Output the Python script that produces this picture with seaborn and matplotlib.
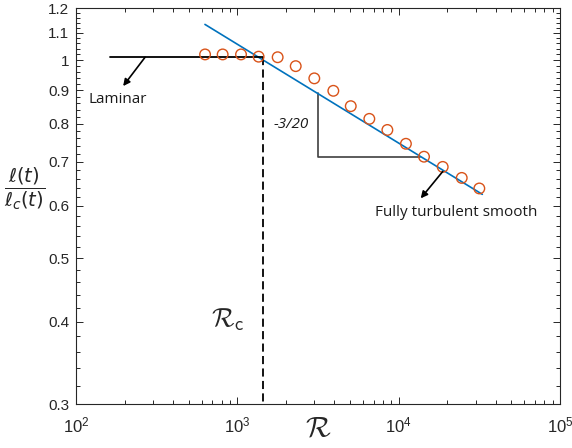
import numpy as np
import pandas as pd
import matplotlib
matplotlib.use("Agg")
import matplotlib.pyplot as plt
import seaborn as sns
from matplotlib.ticker import NullFormatter, FixedLocator

# ---- data ----
R_points = [631, 811, 1054, 1355, 1778, 2301, 3000, 3936, 5047, 6579,
            8511, 11090, 14360, 18750, 24600, 31620]
ell_ratio = [1.020, 1.020, 1.020, 1.012, 1.010, 0.979, 0.938, 0.898, 0.851,
             0.814, 0.783, 0.746, 0.713, 0.688, 0.662, 0.638]

fit_R = [630, 33000]          # fully turbulent smooth scaling, slope -3/20
fit_ell = [1.133, 0.625]

laminar_R = [162, 1435]
laminar_ell = [1.01, 1.01]

Rc = 1435

tri_R = [3150, 3150, 13550]
tri_ell = [0.890, 0.713, 0.713]

y_ticks = [0.3, 0.4, 0.5, 0.6, 0.7, 0.8, 0.9, 1.0, 1.1, 1.2]
y_ticklabels = ["0.3", "0.4", "0.5", "0.6", "0.7", "0.8", "0.9", "1", "1.1", "1.2"]

sns.set_style("ticks")
plt.rcParams["font.family"] = ["Liberation Sans", "DejaVu Sans"]

fig = plt.figure(figsize=(5.72, 4.48), dpi=100)
ax = fig.add_axes([76 / 572, 1 - 404 / 448, (560 - 76) / 572, (404 - 8) / 448])

df_pts = pd.DataFrame({"R": R_points, "ell": ell_ratio})
df_fit = pd.DataFrame({"R": fit_R, "ell": fit_ell})
df_lam = pd.DataFrame({"R": laminar_R, "ell": laminar_ell})

sns.lineplot(data=df_fit, x="R", y="ell", ax=ax, color="#0072BD", lw=1.2,
             zorder=2, sort=False)
sns.lineplot(data=df_lam, x="R", y="ell", ax=ax, color="black", lw=1.3,
             zorder=2, sort=False)
ax.plot(tri_R, tri_ell, color="#404040", lw=1.2, zorder=1)
ax.plot([Rc, Rc], [laminar_ell[0], 0.3], color="black", lw=1.3,
        ls=(0, (4.5, 2.4)), zorder=2)
sns.scatterplot(data=df_pts, x="R", y="ell", ax=ax, marker="o", s=58,
                facecolor="none", edgecolor="#D95319", linewidth=1.0, zorder=3)

ax.set_xscale("log")
ax.set_yscale("log")
ax.set_xlim(1e2, 1e5)
ax.set_ylim(0.3, 1.2)

ax.yaxis.set_major_locator(FixedLocator(y_ticks))
ax.set_yticklabels(y_ticklabels)
minor_y = [v / 100 for v in range(30, 121, 2) if v % 10 != 0]
ax.yaxis.set_minor_locator(FixedLocator(minor_y))
ax.yaxis.set_minor_formatter(NullFormatter())

for s in ax.spines.values():
    s.set_visible(True)
    s.set_color("#262626")
    s.set_linewidth(0.8)

ax.tick_params(which="both", direction="in", top=True, right=True,
               colors="#262626", width=0.7)
ax.tick_params(which="major", length=5)
ax.tick_params(which="minor", length=3)
ax.tick_params(axis="y", which="major", labelsize=11, pad=5)
ax.tick_params(axis="x", which="major", labelsize=12, pad=8)

ax.set_xlabel(r"$\mathcal{R}$", fontsize=21, math_fontfamily="cm")
ax.xaxis.set_label_coords(0.5, -0.025)
ax.set_ylabel(r"$\dfrac{\ell(t)}{\ell_{c}(t)}$", fontsize=14, rotation=0,
              math_fontfamily="dejavusans", ha="center", va="center")
ax.yaxis.set_label_coords(-0.106, 0.543)

txt_font = ["Open Sans", "DejaVu Sans"]
ax.annotate("", xy=(196, 0.913), xytext=(268, 1.01),
            arrowprops=dict(arrowstyle="-|>", color="black", lw=1.2,
                            mutation_scale=10, shrinkA=0, shrinkB=0))
ax.text(119, 0.872, "Laminar", fontsize=11, family=txt_font,
        ha="left", va="center", color="#1a1a1a")

ax.annotate("", xy=(13700, 0.6163), xytext=(18750, 0.677),
            arrowprops=dict(arrowstyle="-|>", color="black", lw=1.2,
                            mutation_scale=10, shrinkA=0, shrinkB=0))
ax.text(7130, 0.5855, "Fully turbulent smooth", fontsize=11, family=txt_font,
        ha="left", va="center", color="#1a1a1a")

ax.text(2151, 0.797, "-3/20", fontsize=11, family=txt_font, style="italic",
        ha="center", va="center", color="#1a1a1a")

ax.text(875, 0.4025, r"$\mathcal{R}_{\mathsf{c}}$", fontsize=19,
        math_fontfamily="cm", ha="center", va="center")

fig.savefig("out.png", dpi=100)
